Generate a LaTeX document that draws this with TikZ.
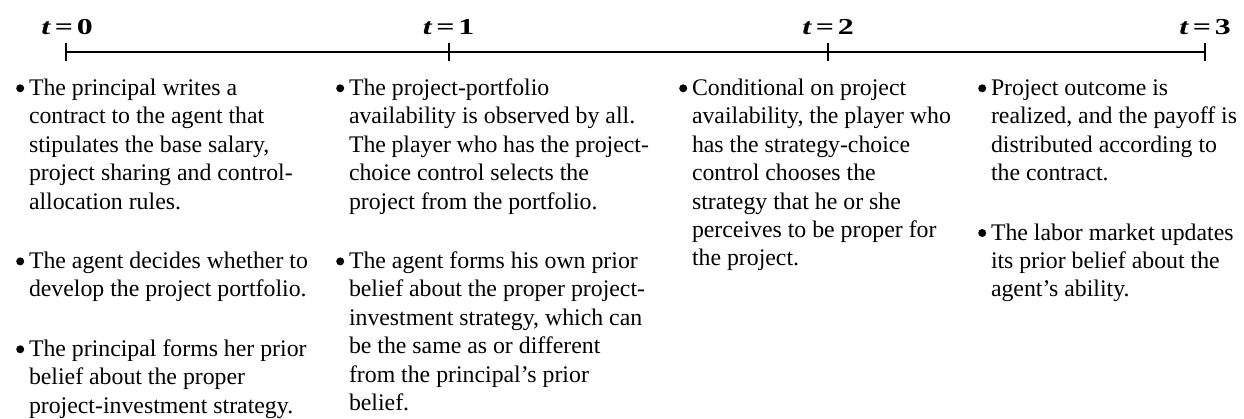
\documentclass[tikz,border=0pt]{standalone}
\usepackage{graphicx}
\usepackage{fontspec}
\setmainfont{Liberation Serif}

% one bullet paragraph: baseline of the box is the baseline of its first line
\newcommand{\itemtext}[1]{\parbox[t]{300pt}{\fontsize{23.8}{28.4}\selectfont\raggedright #1}}
% stage label above a tick (wide bold lettering)
\newcommand{\stagelabel}[1]{\scalebox{1.4}[1]{\textit{t}\hspace{0.12em}=\hspace{0.12em}#1}}

\begin{document}
\begin{tikzpicture}[x=1pt,y=-1pt,
  item/.style={anchor=base west, inner sep=0pt, outer sep=0pt},
  stage/.style={anchor=base, inner sep=0pt, font=\fontsize{22.8}{27}\selectfont\bfseries},
  axis/.style={line width=2pt, line cap=butt},
  dot/.style={fill=black}]
\useasboundingbox (0,0) rectangle (1244,419);

% time axis and its stages
\coordinate (s0) at (66,52);
\coordinate (s1) at (448.5,52);
\coordinate (s2) at (828,52);
\coordinate (s3) at (1205,52);
\draw[axis] (s0) -- (s3);
\foreach \s in {s0,s1,s2,s3}
  \draw[axis] ([yshift=9pt]\s) -- ([yshift=-9pt]\s);

\node[stage] (l0) at (67,34.3) {\stagelabel{0}};
\node[stage] (l1) at (448.5,34.3) {\stagelabel{1}};
\node[stage] (l2) at (828,34.3) {\stagelabel{2}};
\node[stage] (l3) at (1205,34.3) {\stagelabel{3}};

% events at t = 0
\node[item] (a1) at (29,95.5) {\itemtext{The principal writes a\\contract to the agent that\\stipulates the base salary,\\project sharing and control-\\allocation rules.}};
\node[item] (a2) at (29,268.6) {\itemtext{The agent decides whether to\\develop the project portfolio.}};
\node[item] (a3) at (29,356.5) {\itemtext{The principal forms her prior\\belief about the proper\\project-investment strategy.}};

% events at t = 1
\node[item] (b1) at (349,95.5) {\itemtext{The project-portfolio\\availability is observed by all.\\The player who has the project-\\choice control selects the\\project from the portfolio.}};
\node[item] (b2) at (349,268.6) {\itemtext{The agent forms his own prior\\belief about the proper project-\\investment strategy, which can\\be the same as or different\\from the principal's prior\\belief.}};

% events at t = 2
\node[item] (c1) at (692,95.5) {\itemtext{Conditional on project\\availability, the player who\\has the strategy-choice\\control chooses the\\strategy that he or she\\perceives to be proper for\\the project.}};

% events at t = 3
\node[item] (d1) at (991,95.5) {\itemtext{Project outcome is\\realized, and the payoff is\\distributed according to\\the contract.}};
\node[item] (d2) at (991,240.2) {\itemtext{The labor market updates\\its prior belief about the\\agent's ability.}};

% bullets
\foreach \n in {a1,a2,a3,b1,b2,c1,d1,d2}
  \fill[dot] ([shift={(-8.8pt,7.2pt)}]\n.base west) circle (4pt);
\end{tikzpicture}
\end{document}
